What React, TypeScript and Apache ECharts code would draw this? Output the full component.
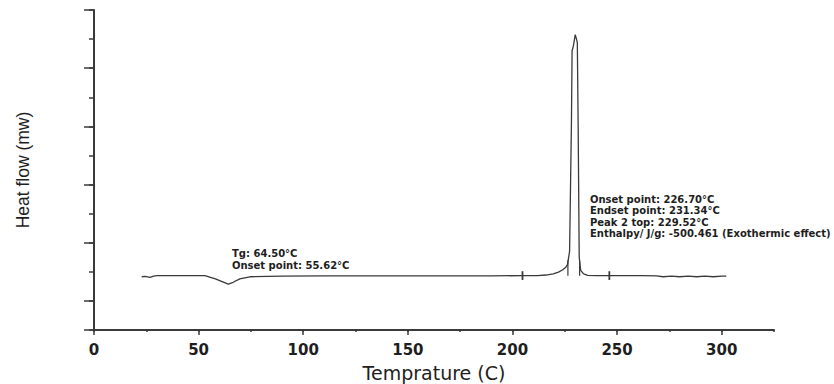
import React, { useEffect, useRef } from "react";
import * as echarts from "echarts";

// DSC curve: temperature (°C) vs heat flow (arbitrary units)
const tempC = [
  22.8, 24.5, 26.8, 28.5, 30, 40, 53, 58, 64.2, 66.5, 69.7, 74.5, 90, 110, 130,
  150, 170, 190, 204.8, 212, 216, 219.5, 222, 224, 225.5, 226.3, 227.3, 228.2,
  228.5, 229.1, 230.0, 230.6, 231.0, 231.4, 231.9, 232.6, 234, 236, 240, 246.3,
  255, 262, 268.8, 272, 276, 280, 284, 288, 292, 296, 300, 302.2,
];
const heatFlow = [
  1.83, 1.84, 1.81, 1.85, 1.867, 1.867, 1.867, 1.76, 1.58, 1.64, 1.76, 1.83,
  1.85, 1.86, 1.86, 1.86, 1.86, 1.86, 1.87, 1.87, 1.89, 1.93, 1.99, 2.07, 2.16,
  2.25, 2.7, 7.2, 9.6, 9.76, 10.15, 10.0, 9.88, 7.0, 2.5, 2.05, 1.93, 1.88,
  1.87, 1.87, 1.87, 1.87, 1.86, 1.83, 1.85, 1.83, 1.85, 1.83, 1.85, 1.83, 1.85,
  1.85,
];

// Vertical marker segments: [x, yFrom, yTo]
const markerX = [204.8, 226.5, 232.1, 246.3];
const markerLow = [1.72, 1.867, 1.867, 1.72];
const markerHigh = [2.02, 2.4, 2.4, 2.02];

const xTicks = [0, 50, 100, 150, 200, 250, 300];

const leftNotes = ["Tg: 64.50°C", "Onset point: 55.62°C"];
const rightNotes = [
  "Onset point: 226.70°C",
  "Endset point: 231.34°C",
  "Peak 2 top: 229.52°C",
  "Enthalpy/ J/g: -500.461 (Exothermic effect)",
];

const LINE = "#3a3a3a";
const AXIS = "#3a3a3a";
const TEXT = "#1e1e1e";

export default function App() {
  const ref = useRef<HTMLDivElement>(null);
  useEffect(() => {
    if (!ref.current) return;
    const chart = echarts.init(ref.current, null, { renderer: "svg" });
    const curve = tempC.map((t, i) => [t, heatFlow[i]]);
    const markerSeries = markerX.map((x, i) => ({
      type: "line",
      xAxisIndex: 0,
      yAxisIndex: 0,
      data: [
        [x, markerLow[i]],
        [x, markerHigh[i]],
      ],
      showSymbol: false,
      lineStyle: { color: LINE, width: i === 0 || i === 3 ? 1.8 : 1.2 },
      silent: true,
    }));
    const noteStyle = {
      fill: TEXT,
      fontFamily: "DejaVu Sans",
      fontWeight: "bold",
      fontSize: 10,
    };
    chart.setOption({
      animation: false,
      backgroundColor: "#ffffff",
      grid: {
        left: 94,
        right: 60,
        top: 10,
        bottom: 54,
        containLabel: false,
        outerBoundsMode: "none",
      },
      xAxis: [
        {
          type: "value",
          position: "bottom",
          min: 0,
          max: 325,
          interval: 50,
          name: "Temprature (C)",
          nameLocation: "middle",
          nameGap: 33,
          nameTextStyle: {
            fontFamily: "DejaVu Sans",
            fontSize: 19,
            color: TEXT,
          },
          axisLine: { onZero: false, lineStyle: { color: AXIS, width: 2 } },
          axisTick: { length: 5, lineStyle: { color: AXIS, width: 1.5 } },
          axisLabel: {
            showMaxLabel: false,
            margin: 12,
            fontFamily: "DejaVu Sans",
            fontWeight: "bold",
            fontSize: 15,
            color: TEXT,
            formatter: (v: number) => (xTicks.includes(v) ? String(v) : ""),
          },
          splitLine: { show: false },
        },
        {
          type: "value",
          position: "bottom",
          min: 0,
          max: 325,
          interval: 25,
          axisLine: { show: false, onZero: false },
          axisTick: { length: 2, lineStyle: { color: AXIS, width: 1.5 } },
          axisLabel: { show: false },
          splitLine: { show: false },
        },
      ],
      yAxis: [
        {
          type: "value",
          position: "left",
          min: 0,
          max: 11,
          interval: 1,
          name: "Heat flow (mw)",
          nameLocation: "middle",
          nameGap: 62,
          nameTextStyle: {
            fontFamily: "Liberation Sans, Arial",
            fontSize: 17.5,
            color: TEXT,
          },
          axisLine: { onZero: false, lineStyle: { color: AXIS, width: 2 } },
          axisTick: { length: 5, lineStyle: { color: AXIS, width: 1.5 } },
          axisLabel: { show: false },
          splitLine: { show: false },
        },
        {
          type: "value",
          position: "left",
          inverse: true,
          min: 0,
          max: 11,
          interval: 2,
          axisLine: { show: false, onZero: false },
          axisTick: { length: 10, lineStyle: { color: AXIS, width: 1.5 } },
          axisLabel: { show: false },
          splitLine: { show: false },
        },
      ],
      series: [
        {
          type: "line",
          xAxisIndex: 0,
          yAxisIndex: 0,
          data: curve,
          showSymbol: false,
          lineStyle: { color: LINE, width: 1.3 },
          silent: true,
        },
        ...markerSeries,
      ],
      graphic: [
        ...leftNotes.map((t, i) => ({
          type: "text",
          left: 232,
          top: 248 + i * 12,
          style: { ...noteStyle, text: t },
        })),
        ...rightNotes.map((t, i) => ({
          type: "text",
          left: 590,
          top: 194 + i * 11.5,
          style: { ...noteStyle, text: t },
        })),
      ],
    });
    return () => chart.dispose();
  }, []);
  return (
    <div
      ref={ref}
      style={{ position: "fixed", left: 0, top: 0, width: 834, height: 384 }}
    />
  );
}
